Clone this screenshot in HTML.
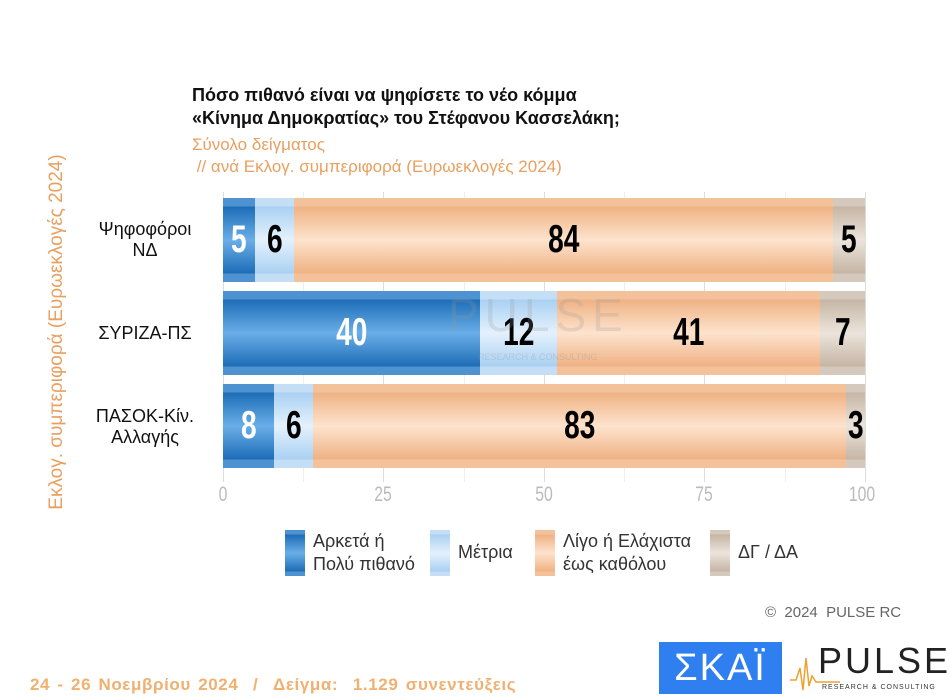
<!DOCTYPE html><html><head><meta charset="utf-8"><style>
body{margin:0;width:950px;height:700px;background:#fff;position:relative;overflow:hidden;font-family:"Liberation Sans","DejaVu Sans",sans-serif}
.a{position:absolute}
.bar{position:absolute;left:223px;width:642px;height:84px;display:flex}
.s{height:100%;position:relative;display:flex;align-items:center;justify-content:center;font-family:"Liberation Sans",sans-serif;font-weight:bold;font-size:39px}
.b{background:linear-gradient(#4f92d2 0,#4f92d2 10%,#1c6cb6 10%,#6aaee8 50%,#1c6cb6 90%,#4f92d2 90%);color:#fff}
.l{background:linear-gradient(#c3def5 0,#c3def5 10%,#a9d0f2 10%,#e4f1fc 50%,#a9d0f2 90%,#c3def5 90%)}
.o{background:linear-gradient(#f3c29b 0,#f3c29b 10%,#efb183 10%,#fde3cd 50%,#efb183 90%,#f3c29b 90%)}
.g{background:linear-gradient(#d5c9bd 0,#d5c9bd 10%,#c5b5a3 10%,#ece4dc 50%,#c5b5a3 90%,#d5c9bd 90%)}
.s span{display:inline-block;transform:scaleX(.72)}
.grid{position:absolute;top:192px;height:290px;width:1px;background:#ddd}
.tick{position:absolute;top:483px;font-size:21px;color:#bbb;transform:translateX(-50%) scaleX(.75)}
.lab{position:absolute;font-size:18px;text-align:center;color:#111;line-height:21px}
.sw{position:absolute;width:20px;height:46px;top:530px}
.lt{position:absolute;top:530px;font-size:18px;color:#333;line-height:23px}
</style></head><body>
<div class="a" style="left:192px;top:84px;font-size:18px;font-weight:bold;line-height:23px;color:#111">Πόσο πιθανό είναι να ψηφίσετε το νέο κόμμα<br>«Κίνημα Δημοκρατίας» του Στέφανου Κασσελάκη;</div>
<div class="a" style="left:192px;top:134px;font-size:17px;color:#e8a060;line-height:22px">Σύνολο δείγματος<br>&nbsp;// ανά Εκλογ. συμπεριφορά (Ευρωεκλογές 2024)</div>
<div class="a" style="left:57px;top:332px;font-size:19px;color:#e8a060;white-space:nowrap;transform:translate(-50%,-50%) rotate(-90deg);transform-origin:center;">Εκλογ. συμπεριφορά (Ευρωεκλογές 2024)</div>
<div class="grid" style="left:223px"></div><div class="grid" style="left:383px"></div><div class="grid" style="left:544px"></div><div class="grid" style="left:704px"></div><div class="grid" style="left:865px"></div>
<div class="grid" style="left:303px;background:#eee"></div><div class="grid" style="left:464px;background:#eee"></div><div class="grid" style="left:624px;background:#eee"></div><div class="grid" style="left:785px;background:#eee"></div>
<div class="bar" style="top:198px"><div class="s b" style="width:5%"><span>5</span></div><div class="s l" style="width:6%"><span>6</span></div><div class="s o" style="width:84%"><span>84</span></div><div class="s g" style="width:5%"><span>5</span></div></div>
<div class="bar" style="top:291px"><div class="s b" style="width:40%"><span>40</span></div><div class="s l" style="width:12%"><span>12</span></div><div class="s o" style="width:41%"><span>41</span></div><div class="s g" style="width:7%"><span>7</span></div></div>
<div class="bar" style="top:384px"><div class="s b" style="width:8%"><span>8</span></div><div class="s l" style="width:6%"><span>6</span></div><div class="s o" style="width:83%"><span>83</span></div><div class="s g" style="width:3%"><span>3</span></div></div>
<div class="a" style="left:448px;top:288px;font-size:46px;color:rgba(150,150,150,.22);letter-spacing:6px">PULSE</div>
<div class="a" style="left:478px;top:352px;font-size:9px;color:rgba(150,150,150,.3)">RESEARCH &amp; CONSULTING</div>
<div class="lab" style="left:85px;top:219px;width:120px">Ψηφοφόροι<br>ΝΔ</div>
<div class="lab" style="left:85px;top:323px;width:120px">ΣΥΡΙΖΑ-ΠΣ</div>
<div class="lab" style="left:85px;top:406px;width:120px">ΠΑΣΟΚ-Κίν.<br>Αλλαγής</div>
<div class="tick" style="left:223px">0</div><div class="tick" style="left:383px">25</div><div class="tick" style="left:544px">50</div><div class="tick" style="left:704px">75</div><div class="tick" style="left:862px">100</div>
<div class="sw b" style="left:285px"></div><div class="lt" style="left:313px">Αρκετά ή<br>Πολύ πιθανό</div>
<div class="sw l" style="left:430px"></div><div class="lt" style="left:458px;top:541px">Μέτρια</div>
<div class="sw o" style="left:535px"></div><div class="lt" style="left:563px">Λίγο ή Ελάχιστα<br>έως καθόλου</div>
<div class="sw g" style="left:710px"></div><div class="lt" style="left:738px;top:541px">ΔΓ / ΔΑ</div>
<div class="a" style="left:765px;top:604px;font-size:15px;color:#666">©&nbsp; 2024&nbsp; PULSE RC</div>
<div class="a" style="left:659px;top:642px;width:123px;height:52px;background:#2f7ff0;color:#fff;font-size:38px;text-align:center;line-height:52px;letter-spacing:2px">ΣΚΑΪ</div>
<div class="a" style="left:818px;top:642px;font-size:36px;color:#222;letter-spacing:3px;line-height:38px">PULSE</div>
<div class="a" style="left:822px;top:684px;font-size:7px;color:#333;letter-spacing:1px">RESEARCH &amp; CONSULTING</div>
<svg class="a" style="left:790px;top:650px" width="50" height="45"><polyline points="0,30 6,30 10,18 13,40 16,8 19,36 22,26 26,32 50,32" fill="none" stroke="#f0a030" stroke-width="1.5"/></svg>
<div class="a" style="left:30px;top:675px;font-size:17px;font-weight:bold;color:#f0b070;letter-spacing:0.6px;word-spacing:2px">24 - 26 Νοεμβρίου 2024&nbsp; / &nbsp;Δείγμα:&nbsp; 1.129 συνεντεύξεις</div>
</body></html>
